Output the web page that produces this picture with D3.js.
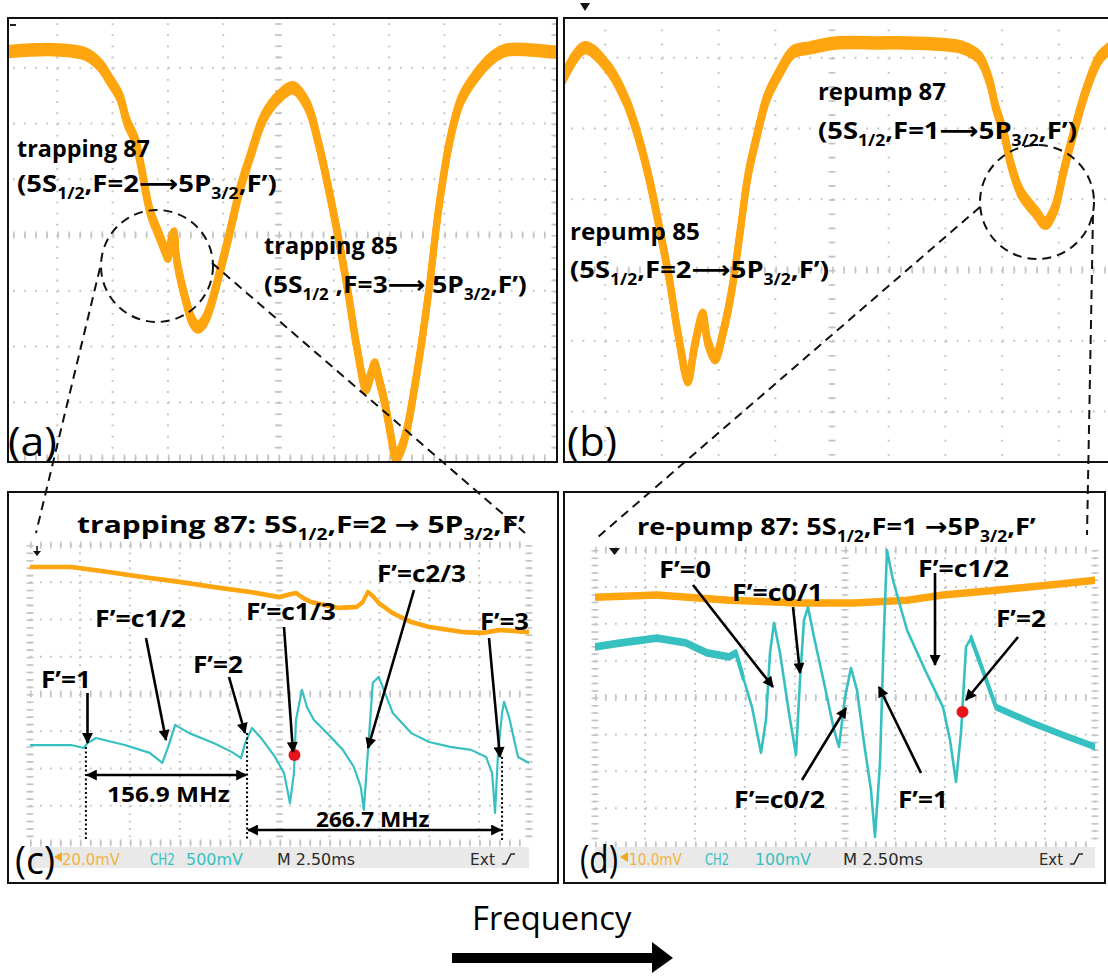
<!DOCTYPE html>
<html><head><meta charset="utf-8">
<script src="https://cdn.jsdelivr.net/npm/d3@7"></script>
<style>html,body{margin:0;padding:0;background:#fff;overflow:hidden}</style>
</head><body>
<script>
// ================= DATA (x, y in oscilloscope divisions: x 0..10, y -4..4) =================
// (a) saturated absorption, trapping transitions
const traceA = [[0.02,3.28],[0.51,3.32],[1.05,3.32],[1.50,3.25],[1.77,3.05],[1.95,2.78],[2.13,2.48],[2.26,2.03],[2.41,1.70],[2.50,1.31],[2.68,0.41],[2.82,0.05],[2.93,-0.23],[3.00,-0.38],[3.07,-0.05],[3.11,0.02],[3.16,-0.45],[3.35,-1.27],[3.45,-1.56],[3.54,-1.65],[3.65,-1.56],[3.76,-1.31],[3.94,-0.66],[4.12,0.05],[4.30,0.81],[4.48,1.38],[4.74,2.12],[5.01,2.48],[5.26,2.64],[5.52,2.33],[5.71,1.70],[5.91,0.81],[6.09,-0.09],[6.26,-1.04],[6.42,-2.03],[6.58,-2.74],[6.67,-2.51],[6.74,-2.33],[6.82,-2.60],[6.93,-3.05],[7.03,-3.59],[7.12,-3.98],[7.21,-3.86],[7.32,-3.50],[7.52,-2.37],[7.72,-0.99],[7.90,0.50],[8.10,1.70],[8.30,2.42],[8.55,2.83],[8.88,3.19],[9.13,3.32],[9.55,3.32],[10.0,3.28]];
// (b) saturated absorption, repump transitions
const traceB = [[0.25,2.70],[0.64,3.14],[1.05,2.86],[1.38,2.37],[1.61,1.81],[1.79,1.24],[1.97,0.54],[2.14,-0.17],[2.28,-0.88],[2.46,-1.55],[2.58,-1.06],[2.72,-0.64],[2.81,-1.02],[2.94,-1.24],[3.08,-0.88],[3.24,-0.25],[3.38,0.54],[3.52,1.34],[3.68,1.91],[3.85,2.43],[4.08,2.80],[4.31,3.08],[4.61,3.14],[5.07,3.21],[5.85,3.21],[6.32,3.21],[6.90,3.19],[7.28,3.15],[7.59,3.01],[7.77,2.69],[7.89,2.29],[8.03,1.94],[8.16,1.48],[8.33,1.09],[8.60,0.81],[8.76,0.66],[8.92,0.85],[9.09,1.41],[9.29,2.02],[9.48,2.54],[9.73,3.01],[9.99,3.18]];
// (c) CH1 (absorption) and CH2 (error signal), trapping 87
const traceC1 = [[0,3.41],[0.82,3.41],[1.54,3.28],[2.26,3.14],[2.99,3.01],[3.69,2.87],[4.41,2.74],[4.99,2.60],[5.21,2.68],[5.33,2.71],[5.47,2.58],[5.63,2.47],[6.19,2.31],[6.55,2.34],[6.67,2.47],[6.77,2.74],[6.87,2.63],[6.99,2.44],[7.27,2.17],[7.64,1.93],[8.00,1.80],[8.70,1.66],[9.06,1.64],[9.42,1.72],[10.0,1.66]];
const traceC2 = [[0,-1.37],[0.82,-1.37],[1.08,-1.45],[1.15,-1.32],[1.32,-1.18],[1.90,-1.37],[2.40,-1.58],[2.65,-1.85],[2.77,-1.42],[2.91,-0.83],[3.19,-1.05],[3.69,-1.32],[4.05,-1.56],[4.23,-1.72],[4.31,-1.32],[4.45,-0.91],[4.63,-1.18],[4.91,-1.69],[5.09,-2.12],[5.21,-2.93],[5.29,-2.12],[5.33,-0.70],[5.45,0.11],[5.55,-0.35],[5.69,-0.70],[5.99,-1.10],[6.27,-1.50],[6.49,-1.96],[6.63,-2.50],[6.69,-3.11],[6.77,-1.58],[6.87,0.30],[6.99,0.46],[7.09,0.11],[7.27,-0.51],[7.64,-1.05],[8.00,-1.29],[8.42,-1.42],[8.84,-1.50],[9.14,-1.69],[9.26,-2.12],[9.32,-3.19],[9.38,-1.58],[9.46,-0.51],[9.50,-0.21],[9.60,-0.62],[9.78,-1.69],[10.0,-1.85]];
const lockC = [[5.30,-1.64]];
const splitC = [1.12, 4.35, 9.46];
const splitLabels = ["156.9 MHz", "266.7 MHz"];
// (d) CH1 and CH2, re-pump 87
const traceD1 = [[0,2.72],[1.24,2.78],[2.68,2.64],[4.10,2.56],[5.18,2.56],[6.24,2.64],[6.96,2.78],[8.02,2.91],[9.10,3.05],[10.0,3.18]];
const traceD2 = [[0,1.37],[0.52,1.48],[1.24,1.61],[1.82,1.48],[2.24,1.21],[2.68,1.10],[2.82,1.21],[2.96,0.56],[3.14,-0.26],[3.32,-1.50],[3.42,-0.61],[3.50,1.21],[3.58,2.02],[3.70,1.21],[3.88,-0.42],[4.02,-1.56],[4.10,0.47],[4.18,2.10],[4.26,2.45],[4.38,1.64],[4.60,0.28],[4.78,-0.88],[4.88,-1.34],[5.00,0.01],[5.12,0.80],[5.24,0.20],[5.38,-1.23],[5.52,-2.51],[5.60,-3.78],[5.70,-1.78],[5.78,1.83],[5.84,4.00],[5.96,3.18],[6.24,1.83],[6.60,0.75],[6.96,-0.26],[7.10,-1.15],[7.22,-2.29],[7.32,-0.96],[7.42,1.37],[7.52,1.61],[7.68,1.02],[8.02,-0.26],[8.74,-0.69],[9.46,-1.07],[10.0,-1.34]];
const lockD = [[7.35,-0.39]];
// scope status-bar texts
const statusC = ["20.0mV", "CH2", "500mV", "M 2.50ms", "Ext"];
const statusD = ["10.0mV", "CH2", "100mV", "M 2.50ms", "Ext"];
const labelsC = ["F’=1", "F’=c1/2", "F’=2", "F’=c1/3", "F’=c2/3", "F’=3"];
const labelsD = ["F’=0", "F’=c0/1", "F’=c1/2", "F’=2", "F’=c0/2", "F’=1"];

// ================= DRAWING =================
const FONT = "'Open Sans','DejaVu Sans',sans-serif";
const ORANGE = '#FFA50F', CYAN = '#38C0C0', GRID = '#c4c4c4';
const svg = d3.select('body').append('svg').attr('width', 1108).attr('height', 976)
  .style('background', '#fff');
const defs = svg.append('defs');
defs.append('marker').attr('id', 'ah').attr('viewBox', '0 0 10 10').attr('refX', 9).attr('refY', 5)
  .attr('markerWidth', 13).attr('markerHeight', 11).attr('markerUnits', 'userSpaceOnUse')
  .attr('orient', 'auto-start-reverse')
  .append('path').attr('d', 'M0,0L10,5L0,10z').attr('fill', '#000');

const layout = {
  a: {frame: [8, 18, 557, 462], scr: [2, 12, 555, 458]},
  b: {frame: [564, 18, 1116, 462], scr: [548.5, -13, 1115.5, 553]},
  c: {frame: [8, 492, 558, 883], scr: [30, 545, 529, 843]},
  d: {frame: [564, 492, 1105, 883], scr: [595, 550, 1095, 845]}
};

function label(g, x, y, parts, o = {}) {
  const size = o.size || 21;
  const t = g.append('text').attr('font-family', o.family || FONT).attr('font-size', size)
    .attr('font-weight', o.weight || 'bold').attr('fill', o.color || '#000');
  let shifted = false;
  parts.forEach(p => {
    const sub = Array.isArray(p);
    const ts = t.append('tspan').text(sub ? p[0] : p);
    if (sub) { ts.attr('font-size', size * 0.64).attr('dy', size * 0.28); shifted = true; }
    else if (shifted) { ts.attr('dy', -size * 0.28); shifted = false; }
  });
  const bw = t.node().getBBox().width;
  const k = o.w ? o.w / bw : 1;
  t.attr('transform', `translate(${x},${y}) scale(${k},1)`);
  return t;
}

function makePanel(key) {
  const L = layout[key];
  const x = d3.scaleLinear().domain([0, 10]).range([L.scr[0], L.scr[2]]);
  const y = d3.scaleLinear().domain([-4, 4]).range([L.scr[3], L.scr[1]]);
  const g = svg.append('g');
  const [fx0, fy0, fx1, fy1] = L.frame;
  const cid = 'clip' + key;
  defs.append('clipPath').attr('id', cid).append('rect')
    .attr('x', fx0 + 1).attr('y', fy0 + 1).attr('width', fx1 - fx0 - 2).attr('height', fy1 - fy0 - 2);
  const inner = g.append('g').attr('clip-path', `url(#${cid})`);
  const gg = inner.append('g');
  const [xa, xb] = x.range(), [yb, ya] = y.range();
  const dx = (xb - xa) / 50, dy = (yb - ya) / 40;
  d3.range(0, 11).forEach(i => {
    gg.append('line').attr('x1', x(i)).attr('x2', x(i)).attr('y1', ya).attr('y2', yb)
      .attr('stroke', GRID).attr('stroke-width', 2).attr('stroke-dasharray', `1.8 ${dy - 1.8}`);
  });
  d3.range(-4, 5).forEach(j => {
    gg.append('line').attr('y1', y(j)).attr('y2', y(j)).attr('x1', xa).attr('x2', xb)
      .attr('stroke', GRID).attr('stroke-width', 2).attr('stroke-dasharray', `1.8 ${dx - 1.8}`);
  });
  [5, 0, 10].forEach(i => gg.append('line').attr('x1', x(i)).attr('x2', x(i)).attr('y1', ya).attr('y2', yb)
    .attr('stroke', GRID).attr('stroke-width', 7).attr('stroke-dasharray', `1.6 ${dy - 1.6}`));
  [0, -4, 4].forEach(j => gg.append('line').attr('y1', y(j)).attr('y2', y(j)).attr('x1', xa).attr('x2', xb)
    .attr('stroke', GRID).attr('stroke-width', 7).attr('stroke-dasharray', `1.6 ${dx - 1.6}`));
  const tr = inner.append('g');
  const frame = () => g.append('rect').attr('x', fx0).attr('y', fy0).attr('width', fx1 - fx0)
    .attr('height', fy1 - fy0).attr('fill', 'none').attr('stroke', '#111').attr('stroke-width', 2);
  return {g, inner, tr, x, y, frame, L};
}

let clipCount = 0;
// draws a trace; 'band' = vertical noise half-height in px (rendered as vertically offset copies)
function trace(P, data, color, width, curve, clipTo, band) {
  const line = d3.line().x(d => P.x(d[0])).y(d => P.y(d[1])).curve(curve || d3.curveLinear);
  let host = P.tr;
  if (clipTo) {
    const id = 'sc' + (clipCount++);
    defs.append('clipPath').attr('id', id).append('rect')
      .attr('x', clipTo[0]).attr('y', clipTo[1]).attr('width', clipTo[2] - clipTo[0]).attr('height', clipTo[3] - clipTo[1]);
    host = P.tr.append('g').attr('clip-path', `url(#${id})`);
  }
  const offs = band ? [-band, -band / 2, 0, band / 2, band] : [0];
  offs.forEach(o => host.append('path').datum(data).attr('d', line).attr('transform', `translate(0,${o})`)
    .attr('fill', 'none').attr('stroke', color)
    .attr('stroke-width', width).attr('stroke-linejoin', 'round').attr('stroke-linecap', 'round'));
  return host;
}

// ---------- Panel (a) ----------
const A = makePanel('a');
trace(A, traceA, ORANGE, 6.5, d3.curveCatmullRom.alpha(0.5), null, 3.5);
A.g.append('line').attr('x1', 10).attr('x2', 16).attr('y1', 25).attr('y2', 25).attr('stroke', '#222').attr('stroke-width', 2);
label(A.g, 17, 157, ["trapping 87"], {size: 24, w: 133});
label(A.g, 17, 192, ["(5S", ["1/2"], ",F=2⟶5P", ["3/2"], ",F’)"], {size: 24, w: 260});
label(A.g, 264, 254, ["trapping 85"], {size: 24, w: 134});
label(A.g, 264, 293, ["(5S", ["1/2"], " ,F=3⟶ 5P", ["3/2"], ",F’)"], {size: 24, w: 263});
label(A.g, 8, 456, ["(a)"], {size: 40, weight: 'normal', w: 49});
A.frame();

// ---------- Panel (b) ----------
const B = makePanel('b');
trace(B, traceB, ORANGE, 6.5, d3.curveCatmullRom.alpha(0.5), null, 3.5);
label(B.g, 818, 100, ["repump 87"], {size: 24, w: 128});
label(B.g, 818, 139, ["(5S", ["1/2"], ",F=1⟶5P", ["3/2"], ",F’)"], {size: 24, w: 259});
label(B.g, 570, 240, ["repump 85"], {size: 24, w: 130});
label(B.g, 570, 278, ["(5S", ["1/2"], ",F=2⟶5P", ["3/2"], ",F’)"], {size: 24, w: 259});
label(B.g, 567, 456, ["(b)"], {size: 40, weight: 'normal', w: 50});
B.frame();
svg.append('path').attr('d', 'M580,3L590,3L585,11z').attr('fill', '#111');

// ---------- status bar helper ----------
function statusBar(P, texts, pos, markX) {
  const [x0, , x1] = P.L.scr;
  P.g.append('rect').attr('x', x0).attr('y', 847).attr('width', x1 - x0).attr('height', 21).attr('fill', '#e9e9e9');
  const cols = ['#F2B43C', CYAN, CYAN, '#2a2a2a', '#2a2a2a'];
  texts.forEach((t, i) => {
    label(P.g, pos[i][0], 865, [t], {size: 16, weight: 'normal', color: cols[i], w: pos[i][1],
      family: "'DejaVu Sans','Open Sans',sans-serif"});
  });
  const ex = pos[4][0] + pos[4][1] + 7;
  P.g.append('path').attr('d', `M${ex},864L${ex + 4},864L${ex + 9},854L${ex + 13},854`)
    .attr('fill', 'none').attr('stroke', '#2a2a2a').attr('stroke-width', 1.6);
  P.g.append('path').attr('d', `M${markX},857L${markX + 8},852L${markX + 8},862z`).attr('fill', '#F2A81C');
}
function arrow(g, a, b, w) {
  g.append('line').attr('x1', a[0]).attr('y1', a[1]).attr('x2', b[0]).attr('y2', b[1])
    .attr('stroke', '#000').attr('stroke-width', w || 2.6).attr('marker-end', 'url(#ah)');
}

// ---------- Panel (c) ----------
const C = makePanel('c');
const clipC = [30, 493, 529, 846];
trace(C, traceC1, ORANGE, 3, d3.curveLinear, clipC, 0.8);
trace(C, traceC2, CYAN, 2.2, d3.curveLinear, clipC);
C.tr.selectAll('circle.lock').data(lockC).join('circle').attr('class', 'lock')
  .attr('cx', d => C.x(d[0])).attr('cy', d => C.y(d[1])).attr('r', 6).attr('fill', '#E8141B');
C.g.append('line').attr('x1', 37).attr('x2', 37).attr('y1', 546).attr('y2', 552).attr('stroke', '#111').attr('stroke-width', 1.5);
C.g.append('path').attr('d', 'M33,551L41,551L37,556z').attr('fill', '#111');
const dotTop = [747, 733, 757];
splitC.forEach((v, i) => C.g.append('line').attr('x1', C.x(v)).attr('x2', C.x(v)).attr('y1', dotTop[i]).attr('y2', 840)
  .attr('stroke', '#000').attr('stroke-width', 2).attr('stroke-dasharray', '2 2.5'));
const spanY = [775, 830];
[[0, 1], [1, 2]].forEach((pr, i) => {
  C.g.append('line').attr('x1', C.x(splitC[pr[0]]) + 1).attr('x2', C.x(splitC[pr[1]]) - 1)
    .attr('y1', spanY[i]).attr('y2', spanY[i]).attr('stroke', '#000').attr('stroke-width', 2.6)
    .attr('marker-start', 'url(#ah)').attr('marker-end', 'url(#ah)');
});
label(C.g, 107, 802, [splitLabels[0]], {size: 22, w: 123});
label(C.g, 316, 827, [splitLabels[1]], {size: 22, w: 114});
label(C.g, 77, 533, ["trapping 87: 5S", ["1/2"], ",F=2 → 5P", ["3/2"], ",F’"], {size: 24, w: 448});
const annC = [
  {x: 41, y: 688, w: 50, a: [87.5, 693], b: [87.5, 743]},
  {x: 95, y: 627, w: 91, a: [146, 638], b: [166, 740]},
  {x: 193, y: 673, w: 50, a: [229, 677], b: [245, 733]},
  {x: 246, y: 620, w: 90, a: [284, 627], b: [293, 752]},
  {x: 377, y: 582, w: 89, a: [414, 590], b: [368, 748]},
  {x: 480, y: 630, w: 49, a: [489, 638], b: [500, 757]}
];
annC.forEach((o, i) => { label(C.g, o.x, o.y, [labelsC[i]], {size: 23, w: o.w}); arrow(C.g, o.a, o.b); });
statusBar(C, statusC, [[62, 58], [150, 25], [186, 57], [277, 78], [470, 25]], 54);
label(C.g, 15, 874, ["(c)"], {size: 38, weight: 'normal', w: 40});
C.frame();

// ---------- Panel (d) ----------
const D = makePanel('d');
const clipD = [595, 493, 1095, 846];
trace(D, traceD1, ORANGE, 3.5, d3.curveLinear, clipD, 2);
trace(D, traceD2, CYAN, 2.6, d3.curveLinear, clipD);
// noisier baseline portions of CH2 (outside the resonance region)
trace(D, traceD2.filter(d => d[0] <= 2.96), CYAN, 2.6, d3.curveLinear, clipD, 2.6);
trace(D, traceD2.filter(d => d[0] >= 7.52), CYAN, 2.6, d3.curveLinear, clipD, 2.2);
D.tr.selectAll('circle.lock').data(lockD).join('circle').attr('class', 'lock')
  .attr('cx', d => D.x(d[0])).attr('cy', d => D.y(d[1])).attr('r', 6).attr('fill', '#E8141B');
D.g.append('path').attr('d', 'M609,548L620,548L614.5,555z').attr('fill', '#111');
label(D.g, 637, 535, ["re-pump 87: 5S", ["1/2"], ",F=1 →5P", ["3/2"], ",F’"], {size: 24, w: 399});
const annD = [
  {x: 659, y: 578, w: 52, a: [693, 585], b: [773, 687]},
  {x: 732, y: 601, w: 91, a: [793, 607], b: [800, 673]},
  {x: 918, y: 577, w: 91, a: [935, 573], b: [935, 665]},
  {x: 996, y: 627, w: 50, a: [1018, 637], b: [966, 700]},
  {x: 734, y: 808, w: 91, a: [802, 780], b: [846, 708]},
  {x: 898, y: 808, w: 50, a: [921, 773], b: [879, 687]}
];
annD.forEach((o, i) => { label(D.g, o.x, o.y, [labelsD[i]], {size: 23, w: o.w}); arrow(D.g, o.a, o.b); });
statusBar(D, statusD, [[629, 53], [705, 24], [755, 56], [843, 80], [1039, 24]], 620);
label(D.g, 580, 873, ["(d)"], {size: 38, weight: 'normal', w: 38});
D.frame();

// ---------- zoom connectors ----------
const con = svg.append('g').attr('fill', 'none').attr('stroke', '#111').attr('stroke-width', 2).attr('stroke-dasharray', '9 6');
con.append('circle').attr('cx', 157).attr('cy', 266).attr('r', 56);
con.append('circle').attr('cx', 1037).attr('cy', 202).attr('r', 57);
[[[100, 268], [36, 533]], [[212, 263], [525, 533]], [[980, 207], [598, 537]], [[1093, 215], [1087, 535]]]
  .forEach(s => con.append('line').attr('x1', s[0][0]).attr('y1', s[0][1]).attr('x2', s[1][0]).attr('y2', s[1][1]));

// ---------- frequency arrow ----------
label(svg, 472, 930, ["Frequency"], {size: 33, weight: 'normal', w: 160});
svg.append('path').attr('d', 'M452,953L652,953L652,942L673,958L652,973L652,963L452,963z').attr('fill', '#000');
</script>
</body></html>
